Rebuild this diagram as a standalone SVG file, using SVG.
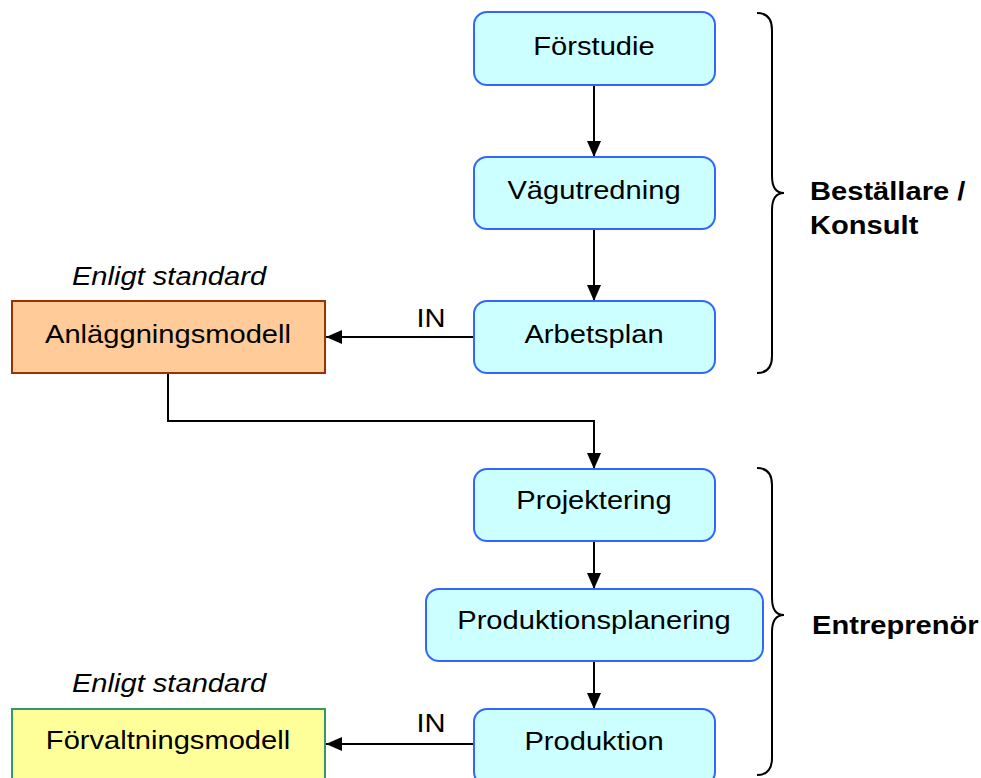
<svg xmlns="http://www.w3.org/2000/svg" width="981" height="778" viewBox="0 0 981 778">
  <style>
    .step { fill: #CCFFFF; stroke: #3366FF; stroke-width: 2; }
    .model-a { fill: #FFCC99; stroke: #993300; stroke-width: 2; }
    .model-f { fill: #FFFF99; stroke: #339966; stroke-width: 2; }
    .lbl { font-family: "Liberation Sans", Arial, sans-serif; font-size: 26px; fill: #000; text-anchor: middle; }
    .it { font-style: italic; }
    .bold { font-weight: bold; text-anchor: start; }
    .edge { fill: none; stroke: #000; stroke-width: 2; }
    .brace { fill: none; stroke: #000; stroke-width: 2; }
  </style>
  <defs>
    <marker id="arrow" viewBox="0 0 16 14" refX="16" refY="7" markerWidth="16" markerHeight="14" markerUnits="userSpaceOnUse" orient="auto">
      <path d="M0,0 L16,7 L0,14 Z" fill="#000"/>
    </marker>
  </defs>

  <rect width="981" height="778" fill="#fff"/>

  <!-- connectors -->
  <g id="connectors">
    <path class="edge" d="M594,85 V157" marker-end="url(#arrow)"/>
    <path class="edge" d="M594,229 V301" marker-end="url(#arrow)"/>
    <path class="edge" d="M474,337 H326" marker-end="url(#arrow)"/>
    <path class="edge" d="M168,373 V421 H594 V469" marker-end="url(#arrow)"/>
    <path class="edge" d="M594,541 V589" marker-end="url(#arrow)"/>
    <path class="edge" d="M594,661 V709" marker-end="url(#arrow)"/>
    <path class="edge" d="M474,744 H326" marker-end="url(#arrow)"/>
    <text class="lbl" transform="translate(431,327) scale(1.12,1)">IN</text>
    <text class="lbl" transform="translate(431,732) scale(1.12,1)">IN</text>
  </g>

  <!-- process steps -->
  <g id="forstudie">
    <rect class="step" x="474" y="12" width="241" height="73" rx="13"/>
    <text class="lbl" transform="translate(594,55) scale(1.12,1)">Förstudie</text>
  </g>
  <g id="vagutredning">
    <rect class="step" x="474" y="157" width="241" height="72" rx="13"/>
    <text class="lbl" transform="translate(594,199) scale(1.12,1)">Vägutredning</text>
  </g>
  <g id="arbetsplan">
    <rect class="step" x="474" y="301" width="241" height="72" rx="13"/>
    <text class="lbl" transform="translate(594,343) scale(1.12,1)">Arbetsplan</text>
  </g>
  <g id="projektering">
    <rect class="step" x="474" y="469" width="241" height="72" rx="13"/>
    <text class="lbl" transform="translate(594,509) scale(1.12,1)">Projektering</text>
  </g>
  <g id="produktionsplanering">
    <rect class="step" x="426" y="589" width="337" height="72" rx="13"/>
    <text class="lbl" transform="translate(594,629) scale(1.12,1)">Produktionsplanering</text>
  </g>
  <g id="produktion">
    <rect class="step" x="474" y="709" width="241" height="76" rx="13"/>
    <text class="lbl" transform="translate(594,750) scale(1.12,1)">Produktion</text>
  </g>

  <!-- models -->
  <g id="anlaggningsmodell">
    <text class="lbl it" transform="translate(169,285) scale(1.12,1)">Enligt standard</text>
    <rect class="model-a" x="12" y="301" width="313" height="72"/>
    <text class="lbl" transform="translate(168,343) scale(1.12,1)">Anläggningsmodell</text>
  </g>
  <g id="forvaltningsmodell">
    <text class="lbl it" transform="translate(169,692) scale(1.12,1)">Enligt standard</text>
    <rect class="model-f" x="12" y="709" width="313" height="76"/>
    <text class="lbl" transform="translate(168,749) scale(1.12,1)">Förvaltningsmodell</text>
  </g>

  <!-- role braces -->
  <g id="bestallare">
    <path class="brace" d="M757,13 Q772,13 772,30 V176 Q772,193 784,193 Q772,193 772,210 V356 Q772,373 757,373"/>
    <text class="lbl bold" transform="translate(810,200) scale(1.12,1)">Beställare /</text>
    <text class="lbl bold" transform="translate(810,234) scale(1.12,1)">Konsult</text>
  </g>
  <g id="entreprenor">
    <path class="brace" d="M757,468 Q772,468 772,485 V598 Q772,615 784,615 Q772,615 772,632 V758 Q772,775 757,775"/>
    <text class="lbl bold" transform="translate(812,634) scale(1.12,1)">Entreprenör</text>
  </g>
</svg>
